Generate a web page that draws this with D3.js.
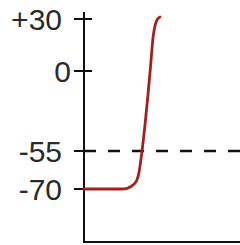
<!DOCTYPE html>
<html>
<head>
<meta charset="utf-8">
<script src="https://cdn.jsdelivr.net/npm/d3@7"></script>
<style>
  body { margin: 0; background: #fff; }
</style>
</head>
<body>
<div id="chart"></div>
<script>
// membrane potential (mV) vs time (arbitrary units)
var tickValues = [30, 0, -55, -70];
var tickLabels = ["+30", "0", "-55", "-70"];
var threshold = -55;
var time = [0, 25, 29.5, 33.3, 35.3, 37.2, 39.1, 41, 43, 44.2, 45.5, 46.8, 48.7];
var voltage = [-70, -70, -69.2, -67.2, -63.3, -55, -37.1, -16.5, 6.3, 19, 26, 29.5, 31.2];

var width = 240, height = 245;

var svg = d3.select("#chart")
  .append("svg")
    .attr("width", width)
    .attr("height", height);

var axisX = 84, axisBottom = 242;

// schematic, not to scale: piecewise y scale
var y = d3.scaleLinear()
  .domain([-70, -55, 0, 30])
  .range([189, 151, 71, 19]);

var x = d3.scaleLinear()
  .domain([0, 100])
  .range([axisX, 240]);

// axes lines
svg.append("line")
  .attr("x1", axisX).attr("x2", axisX)
  .attr("y1", 12).attr("y2", axisBottom)
  .style("stroke", "#111")
  .style("stroke-width", 2);

svg.append("line")
  .attr("x1", axisX - 1).attr("x2", width)
  .attr("y1", axisBottom).attr("y2", axisBottom)
  .style("stroke", "#111")
  .style("stroke-width", 2);

// ticks crossing the axis
var ticks = svg.append("g");
ticks.selectAll("line")
  .data(tickValues)
  .enter()
  .append("line")
    .attr("x1", axisX - 10)
    .attr("x2", axisX + 8)
    .attr("y1", function(d) { return y(d); })
    .attr("y2", function(d) { return y(d); })
    .style("stroke", "#111")
    .style("stroke-width", 2);

ticks.selectAll("text")
  .data(tickValues)
  .enter()
  .append("text")
    .attr("x", function(d) { return d == 0 ? axisX - 13 : axisX - 22; })
    .attr("y", function(d) { return y(d); })
    .attr("dy", "0.38em")
    .attr("text-anchor", "end")
    .style("font-family", "'Liberation Sans', Arial, sans-serif")
    .style("font-size", "30px")
    .style("fill", "#2a2a2a")
    .text(function(d, i) { return tickLabels[i]; });

// threshold
svg.append("line")
  .attr("x1", axisX)
  .attr("x2", width)
  .attr("y1", y(threshold))
  .attr("y2", y(threshold))
  .style("stroke", "#111")
  .style("stroke-width", 2.5)
  .attr("stroke-dasharray", "12,12");

// potential trace
var data = time.map(function(t, i) { return {t: t, v: voltage[i]}; });
var line = d3.line()
  .x(function(d) { return x(d.t); })
  .y(function(d) { return y(d.v); })
  .curve(d3.curveMonotoneX);

svg.append("path")
  .datum(data)
  .attr("d", line)
  .attr("fill", "none")
  .style("stroke", "#a3201e")
  .style("stroke-width", 2.8)
  .style("stroke-linecap", "round");
</script>
</body>
</html>
